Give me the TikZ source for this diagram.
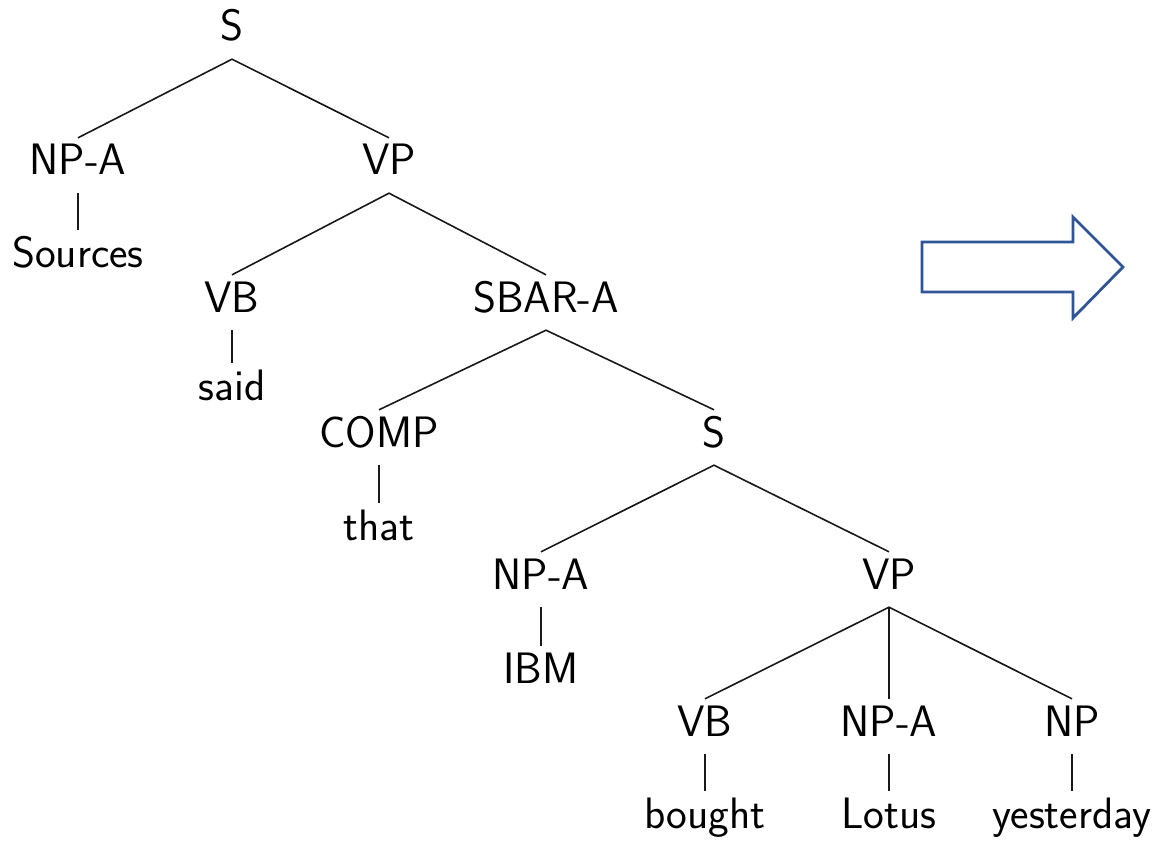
\documentclass[tikz,border=0pt]{standalone}
\usepackage{fontspec}
\definecolor{arrowblue}{RGB}{47,85,151}
\begin{document}
\begin{tikzpicture}[x=1pt,y=-1pt,
  lbl/.style={font=\sffamily\fontsize{44}{52}\selectfont, anchor=base,
    text height=32pt, text depth=13pt, inner xsep=2pt, inner ysep=5pt},
  edge/.style={line width=1.6pt, black!90}]
\useasboundingbox (0,0) rectangle (1158,842);
% level 0
\node[lbl] (s0) at (232,41) {S};
% level 1
\node[lbl] (np1) at (78,175) {NP-A};
\node[lbl] (vp1) at (389,175) {VP};
\node[lbl] (w1) at (78,267) {Sources};
% level 2
\node[lbl] (vb2) at (232,312) {VB};
\node[lbl] (sbar) at (546,312) {SBAR-A};
\node[lbl] (w2) at (232,400) {said};
% level 3
\node[lbl] (comp) at (379,447) {COMP};
\node[lbl] (s3) at (714,447) {S};
\node[lbl] (w3) at (379,540) {that};
% level 4
\node[lbl] (np4) at (541,589) {NP-A};
\node[lbl] (vp4) at (889,589) {VP};
\node[lbl] (w4) at (541,683) {IBM};
% level 5
\node[lbl] (vb5) at (705,736) {VB};
\node[lbl] (np5) at (889,736) {NP-A};
\node[lbl] (npx) at (1072,736) {NP};
\node[lbl] (w5a) at (705,828) {bought};
\node[lbl] (w5b) at (889,828) {Lotus};
\node[lbl] (w5c) at (1072,828) {yesterday};
% edges
\draw[edge] (np1.north) -- (s0.south) -- (vp1.north);
\draw[edge] (np1.south) -- (w1.north);
\draw[edge] (vb2.north) -- (vp1.south) -- (sbar.north);
\draw[edge] (vb2.south) -- (w2.north);
\draw[edge] (comp.north) -- (sbar.south) -- (s3.north);
\draw[edge] (comp.south) -- (w3.north);
\draw[edge] (np4.north) -- (s3.south) -- (vp4.north);
\draw[edge] (np4.south) -- (w4.north);
\draw[edge] (vb5.north) -- (vp4.south) -- (npx.north);
\draw[edge] (vp4.south) -- (np5.north);
\draw[edge] (vb5.south) -- (w5a.north);
\draw[edge] (np5.south) -- (w5b.north);
\draw[edge] (npx.south) -- (w5c.north);
% block arrow
\draw[arrowblue, line width=2.8pt, line join=miter]
  (922,242) -- (1073,242) -- (1073,217) -- (1123,267) -- (1073,318) -- (1073,292) -- (922,292) -- cycle;
\end{tikzpicture}
\end{document}
